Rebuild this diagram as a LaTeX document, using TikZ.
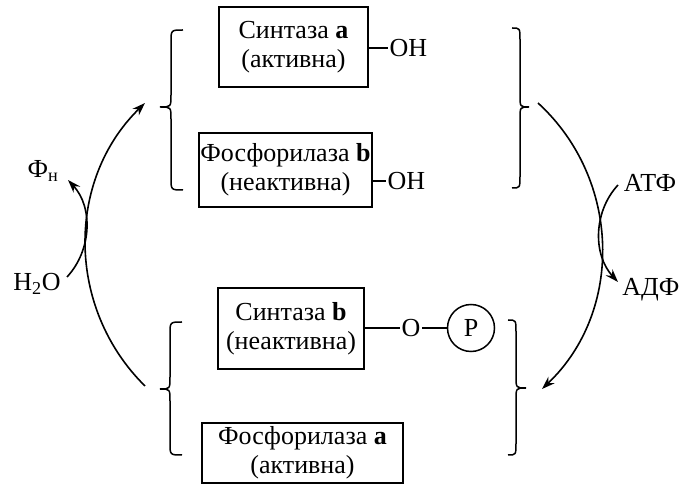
\documentclass[tikz,border=0pt]{standalone}
\usepackage{fontspec}
\setmainfont{Liberation Serif}
\usetikzlibrary{arrows.meta}
\newcommand\mybrace[6]{%
  \draw[brc] (#3,#4) .. controls (#2,#4) .. (#2,#4+12) -- (#2,#5-12)
    .. controls (#2,#5) .. (#1,#5) .. controls (#2,#5) .. (#2,#5+12)
    -- (#2,#6-12) .. controls (#2,#6) .. (#3,#6);}
\begin{document}
\begin{tikzpicture}[x=1pt,y=-1pt,
  font=\fontsize{26}{29}\selectfont,
  enz/.style={draw, line width=1.8pt, align=center, inner sep=0pt},
  lbl/.style={inner sep=1.5pt},
  conn/.style={line width=1.8pt},
  brc/.style={line width=1.5pt},
  cyc/.style={line width=1.6pt, -{Stealth[length=13pt,width=9pt]}}]
\useasboundingbox (0,0) rectangle (681,486);
% enzyme boxes
\node[enz, minimum width=149pt, minimum height=80pt] (s1) at (293.5,47) {Синтаза \textbf{a}\\(активна)};
\node[enz, minimum width=173pt, minimum height=74pt] (f1) at (285.5,170) {Фосфорилаза \textbf{b}\\(неактивна)};
\node[enz, minimum width=146pt, minimum height=81pt] (s2) at (291,328.5) {Синтаза \textbf{b}\\(неактивна)};
\node[enz, minimum width=201pt, minimum height=60pt] (f2) at (302.5,453) {Фосфорилаза \textbf{a}\\(активна)};
% substituents
\node[lbl, anchor=west] (oh1) at (388,48) {OH};
\node[lbl, anchor=west] (oh2) at (386,181) {OH};
\node[lbl] (o) at (411,328) {O};
\node[draw, circle, line width=1.5pt, minimum size=47pt, inner sep=0pt] (p) at (471,328) {P};
\draw[conn] (s1.east |- oh1.west) -- (oh1.west);
\draw[conn] (f1.east |- oh2.west) -- (oh2.west);
\draw[conn] (s2.east |- o.west) -- (o.west);
\draw[conn] (o.east) -- (p.west);
% braces
\mybrace{160}{171}{183}{30}{107}{190}
\mybrace{529}{520}{512}{28}{107}{188}
\mybrace{160}{170}{182}{322}{389}{455}
\mybrace{526}{516}{508}{320}{388}{455}
% side labels
\node (fn) at (43,171) {Ф\textsubscript{н}};
\node (h2o) at (37,284) {H\textsubscript{2}O};
\node (atf) at (650,183) {АТФ};
\node (adf) at (651,290) {АДФ};
% connector end points
\coordinate (lS) at (145,386);
\coordinate (lE) at (145,103);
\coordinate (rS) at (538,103);
\coordinate (rE) at (542,389);
\coordinate (hS) at (67,277);
\coordinate (fE) at (68,180);
\coordinate (aS) at (618,185);
\coordinate (dE) at (618,282);
% cycle arrows
\draw[cyc] (lS) .. controls +(-79,-78) and +(-79,77) .. (lE);
\draw[cyc] (rS) .. controls +(83,76) and +(82,-78) .. (rE);
\draw[cyc] (hS) .. controls +(25,-27) and +(25,27) .. (fE);
\draw[cyc] (aS) .. controls +(-25,27) and +(-25,-27) .. (dE);
\end{tikzpicture}
\end{document}
